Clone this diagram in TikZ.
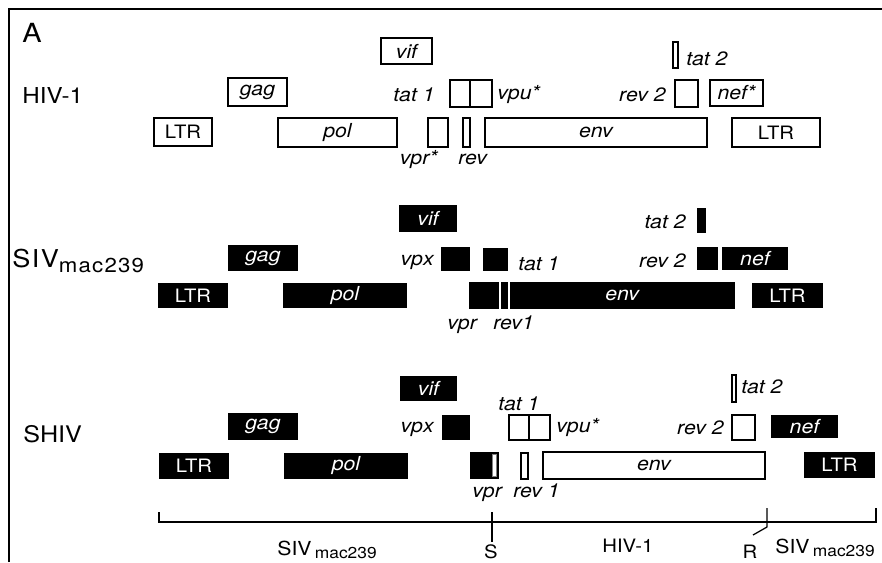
\documentclass[tikz,border=0pt]{standalone}
\usepackage{fontspec}
\setmainfont{TeX Gyre Heros}[FakeStretch=1.1]
\newcommand{\genefont}{\fontsize{11}{13}\selectfont\itshape}
\newcommand{\ltrfont}{\fontsize{10.5}{12}\selectfont}
\tikzset{
  hivgene/.style={draw, line width=0.9pt, fill=white, inner sep=0pt, font=\genefont},
  sivgene/.style={fill=black, text=white, inner sep=0pt, font=\genefont},
  genelbl/.style={inner sep=0pt, font=\genefont},
  rowlbl/.style={inner sep=0pt, font=\fontsize{12.5}{14}\selectfont},
  scalebar/.style={line width=0.7pt}
}
% gene box from (x1,y1) to (x2,y2), in pixels
\newcommand{\genebox}[7]{%
  \node[#1, minimum width={(#5-#3)*0.02cm}, minimum height={(#6-#4)*0.02cm}] (#2) at ({(#3+#5)/2},{(#4+#6)/2}) {#7};}

\begin{document}
\begin{tikzpicture}[x=0.02cm, y=-0.02cm]
  \fill[white] (0,0) rectangle (882,562);
  \path[use as bounding box] (0,0) rectangle (882,562);
  \draw[line width=1.2pt] (9,562) -- (9,9) -- (882,9);
  \node[inner sep=0pt, anchor=base west, font=\fontsize{15}{17}\selectfont] (panel) at (22,42) {A};

  % HIV-1
  \node[rowlbl, anchor=base west] (hivName) at (22,103) {HIV-1};
  \genebox{hivgene}{hVif}{381}{38}{432}{64}{vif}
  \genebox{hivgene}{hTatB}{673}{42}{678}{68}{}
  \node[genelbl, anchor=base west] (hTatBl) at (686,65) {tat 2};
  \genebox{hivgene}{hGag}{228}{78}{287}{106}{gag}
  \node[genelbl, anchor=base east] (hTatAl) at (435,101) {tat 1};
  \genebox{hivgene}{hTatA}{450}{80}{470}{107}{}
  \genebox{hivgene}{hVpu}{470}{80}{492}{107}{}
  \node[genelbl, anchor=base west] (hVpul) at (497,99) {vpu*};
  \node[genelbl, anchor=base east] (hRevBl) at (666,101) {rev 2};
  \genebox{hivgene}{hRevB}{675}{80}{698}{107}{}
  \genebox{hivgene}{hNef}{710}{80}{763}{106}{nef*}
  \genebox{hivgene, font=\ltrfont}{hLtrL}{154}{118}{212}{146}{LTR}
  \genebox{hivgene}{hPol}{278}{118}{397}{147}{pol}
  \genebox{hivgene}{hVpr}{428}{118}{448}{147}{}
  \genebox{hivgene}{hRev}{463}{118}{470}{147}{}
  \genebox{hivgene}{hEnv}{485}{118}{707}{147}{env}
  \genebox{hivgene, font=\ltrfont}{hLtrR}{732}{118}{820}{147}{LTR}
  \node[genelbl, anchor=base east] (hVprl) at (438,164) {vpr*};
  \node[genelbl, anchor=base west] (hRevl) at (458,164) {rev};

  % SIV mac239
  \node[inner sep=0pt, anchor=base west, font=\fontsize{14}{16}\selectfont\addfontfeature{LetterSpace=6}] (sivName) at (12,267) {SIV\raisebox{-3pt}{\fontsize{11.5}{13}\selectfont mac239}};
  \genebox{sivgene}{sVif}{399}{205}{457}{232}{vif}
  \node[genelbl, anchor=base east] (sTatBl) at (686,228) {tat 2};
  \genebox{sivgene}{sTatB}{697}{208}{706}{233}{}
  \genebox{sivgene}{sGag}{228}{245}{298}{271}{gag}
  \node[genelbl, anchor=base east] (sVpxl) at (434,265) {vpx};
  \genebox{sivgene}{sVpx}{441}{247}{470}{271}{}
  \genebox{sivgene}{sTatA}{483}{248}{508}{271}{}
  \node[genelbl, anchor=base west] (sTatAl) at (518,270) {tat 1};
  \node[genelbl, anchor=base east] (sRevBl) at (686,267) {rev 2};
  \genebox{sivgene}{sRevB}{697}{247}{718}{270}{}
  \genebox{sivgene}{sNef}{722}{247}{788}{270}{nef}
  \genebox{sivgene, font=\ltrfont}{sLtrL}{158}{283}{228}{308}{LTR}
  \genebox{sivgene}{sPol}{283}{283}{407}{308}{pol}
  \genebox{sivgene}{sVpr}{469}{282}{498.5}{309}{}
  \genebox{sivgene}{sRev}{500.5}{282}{507.5}{309}{}
  \genebox{sivgene}{sEnv}{509.5}{282}{735}{309}{env}
  \genebox{sivgene, font=\ltrfont}{sLtrR}{752}{283}{823}{308}{LTR}
  \node[genelbl, anchor=base west] (sVprl) at (447,329) {vpr};
  \node[genelbl, anchor=base west] (sRevl) at (493,329) {rev1};

  % SHIV
  \node[rowlbl, font=\fontsize{13}{15}\selectfont, anchor=base west] (shivName) at (23,442) {SHIV};
  \genebox{sivgene}{xVif}{400}{376}{457}{401}{vif}
  \genebox{hivgene}{xTatB}{732}{375}{736}{402}{}
  \node[genelbl, anchor=base west] (xTatBl) at (741,393) {tat 2};
  \node[genelbl, anchor=base west] (xTatAl) at (498,410) {tat 1};
  \genebox{sivgene}{xGag}{228}{413}{298}{440}{gag}
  \node[genelbl, anchor=base east] (xVpxl) at (434,432) {vpx};
  \genebox{sivgene}{xVpx}{442}{415}{470}{440}{}
  \genebox{hivgene}{xTatA}{509}{415}{529}{440}{}
  \genebox{hivgene}{xVpu}{529}{415}{550}{440}{}
  \node[genelbl, anchor=base west] (xVpul) at (556,432) {vpu*};
  \node[genelbl, anchor=base east] (xRevBl) at (724,434) {rev 2};
  \genebox{hivgene}{xRevB}{732}{415}{755}{440}{}
  \genebox{sivgene}{xNef}{771}{415}{838}{438}{nef}
  \genebox{sivgene, font=\ltrfont}{xLtrL}{159}{453}{229}{479}{LTR}
  \genebox{sivgene}{xPol}{284}{453}{408}{479}{pol}
  \genebox{sivgene}{xVpr}{470}{452}{499}{479}{}
  \filldraw[fill=white, draw=gray, line width=0.3pt] (492.5,454.5) rectangle (496.5,476.5);
  \genebox{hivgene}{xRev}{521}{453}{528}{479}{}
  \genebox{hivgene}{xEnv}{543}{452}{765}{479}{env}
  \genebox{sivgene, font=\ltrfont}{xLtrR}{804}{452}{875}{478}{LTR}
  \node[genelbl, anchor=base west] (xVprl) at (472,497) {vpr};
  \node[genelbl, anchor=base west] (xRevl) at (513,497) {rev 1};

  % scale bar
  \coordinate (bL) at (159,522);
  \coordinate (bS) at (492,522);
  \coordinate (bRj) at (767,522);
  \coordinate (bR) at (876,522);
  \draw[scalebar] (bL) ++(0,-10) -- (bL) -- (bR) -- ++(0,-14);
  \draw[scalebar] (bS) ++(0,-10) -- ++(0,30);
  \draw[scalebar] (bRj) ++(0,-14) -- ++(0,19) -- ++(-14,8);
  \node[inner sep=0pt, anchor=base west, font=\fontsize{11}{13}\selectfont] (lSiv) at (277,555) {SIV\,\raisebox{-2pt}{\fontsize{9}{10}\selectfont mac239}};
  \node[inner sep=0pt, anchor=base, font=\fontsize{10.5}{12}\selectfont] (lS) at (491,558) {S};
  \node[inner sep=0pt, anchor=base west, font=\fontsize{10.5}{12}\selectfont] (lHiv) at (602,552) {HIV-1};
  \node[inner sep=0pt, anchor=base, font=\fontsize{10.5}{12}\selectfont] (lR) at (750,558) {R};
  \node[inner sep=0pt, anchor=base west, font=\fontsize{11}{13}\selectfont] (rSiv) at (775,553) {SIV\,\raisebox{-2pt}{\fontsize{9}{10}\selectfont mac239}};
\end{tikzpicture}
\end{document}
